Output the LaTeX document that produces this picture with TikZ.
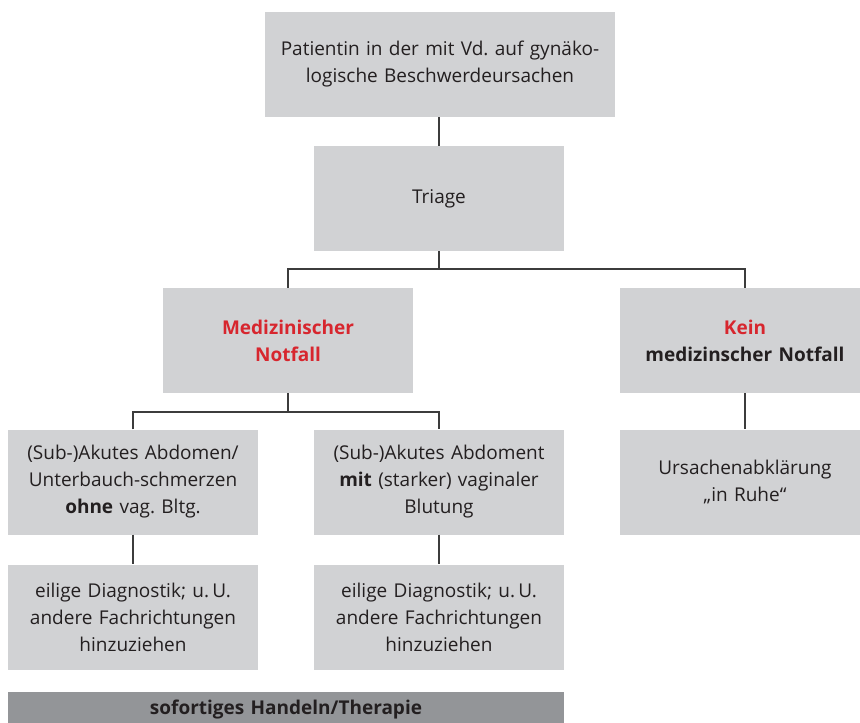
\documentclass[tikz,border=0pt]{standalone}
\usepackage{fontspec}
\setmainfont{Open Sans}
\frenchspacing
\definecolor{boxgray}{HTML}{D1D2D4}
\definecolor{bargray}{HTML}{939598}
\definecolor{notred}{HTML}{D7262E}
\definecolor{textdark}{HTML}{231F20}
\definecolor{linegray}{HTML}{3C3C3C}
\begin{document}
\begin{tikzpicture}[x=1pt,y=-1pt,
  box/.style={fill=boxgray, minimum width=250pt, minimum height=105pt,
    text width=248pt, align=center, inner sep=0pt,
    font=\fontsize{19}{27}\selectfont, text=textdark},
  conn/.style={draw=linegray, line width=1.3pt}]
\useasboundingbox (0,0) rectangle (860,723);
\clip (0,0) rectangle (860,723);
\node[box, minimum width=350pt, text width=345pt] (top) at (440,64.5)
  {Patientin in der mit Vd. auf gynäko-\\logische Beschwerdeursachen};
\node[box] (triage) at (439,198.5) {Triage};
\node[box, text=notred, font=\fontsize{19}{27}\selectfont\bfseries] (med) at (288,340.5)
  {Medizinischer\\Notfall};
\node[box, font=\fontsize{19}{27}\selectfont\bfseries] (kein) at (745,340.5)
  {\textcolor{notred}{Kein}\\medizinscher Notfall};
\node[box] (ohne) at (133,482)
  {(Sub-)Akutes Abdomen/\\Unterbauch-schmerzen\\\textbf{ohne} vag. Bltg.};
\node[box] (mit) at (439,482)
  {(Sub-)Akutes Abdoment\\\textbf{mit} (starker) vaginaler\\Blutung};
\node[box] (ruhe) at (745,482)
  {Ursachenabklärung\\„in Ruhe“};
\node[box] (diag1) at (133,617)
  {eilige Diagnostik; u.\,U.\\andere Fachrichtungen\\hinzuziehen};
\node[box] (diag2) at (439,617)
  {eilige Diagnostik; u.\,U.\\andere Fachrichtungen\\hinzuziehen};
\fill[bargray] (8,692) rectangle (564,740);
\node[box, fill=none, minimum width=556pt, text width=540pt, minimum height=20pt,
  font=\fontsize{19}{27}\selectfont\bfseries] (bar) at (286,710)
  {sofortiges Handeln/Therapie};
\coordinate (j1) at (439,269);
\coordinate (j2) at (288,412);
\draw[conn] (top.south -| triage.north) -- (triage.north);
\draw[conn] (triage.south) -- (j1);
\draw[conn] (med.north) |- (j1) -| (kein.north);
\draw[conn] (med.south) -- (j2);
\draw[conn] (ohne.north) |- (j2) -| (mit.north);
\draw[conn] (ohne.south) -- (diag1.north);
\draw[conn] (mit.south) -- (diag2.north);
\draw[conn] (kein.south) -- (ruhe.north);
\end{tikzpicture}
\end{document}
